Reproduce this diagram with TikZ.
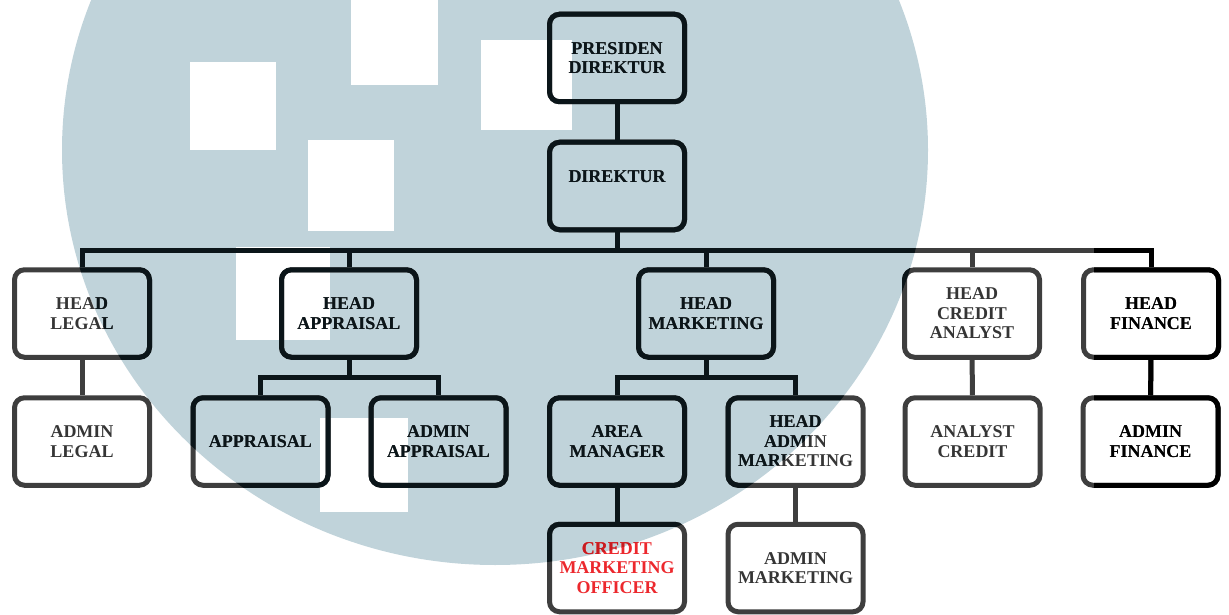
\documentclass[tikz,border=0pt]{standalone}
\usepackage{fontspec}
\setmainfont{Liberation Serif}
\usepackage{xcolor}
\definecolor{wmblue}{HTML}{C0D3DA}
\definecolor{inkgray}{HTML}{3E3E3E}
\definecolor{inkdark}{HTML}{0B1519}
\definecolor{txtgray}{HTML}{353535}
\definecolor{cmored}{HTML}{EC282D}
\definecolor{cmodark}{HTML}{C81C20}
\colorlet{ink}{inkgray}
\colorlet{txt}{txtgray}
\colorlet{cmo}{cmored}

\newcommand{\orgtree}{%
	\node[unit] (presdir) at (617,58) {PRESIDEN\\DIREKTUR};
	\node[unit] (direktur) at (617,186) {DIREKTUR\\\mbox{}};

	\node[unit] (hlegal) at (82,313.5) {HEAD\\LEGAL};
	\node[unit] (happr) at (349,313.5) {HEAD\\APPRAISAL};
	\node[unit] (hmkt) at (706,313.5) {HEAD\\MARKETING};
	\node[unit] (hcredit) at (972,313.5) {HEAD\\CREDIT\\ANALYST};
	\node[unit] (hfinance) at (1151,313.5) {HEAD\\FINANCE};

	\node[unit] (adlegal) at (82,441.5) {ADMIN\\LEGAL};
	\node[unit] (appr) at (260.5,441.5) {APPRAISAL};
	\node[unit] (adappr) at (438.5,441.5) {ADMIN\\APPRAISAL};
	\node[unit] (areamgr) at (617,441.5) {AREA\\MANAGER};
	\node[unit] (hadmkt) at (795.5,441.5) {HEAD\\ADMIN\\MARKETING};
	\node[unit] (ancredit) at (972.5,441.5) {ANALYST\\CREDIT};
	\node[unit] (adfinance) at (1150.5,441.5) {ADMIN\\FINANCE};

	\node[unit, text=cmo] (cmofficer) at (617,568) {CREDIT\\MARKETING\\OFFICER};
	\node[unit] (admkt) at (795.5,568) {ADMIN\\MARKETING};

	\coordinate (bus) at (617,250);
	\coordinate (apbus) at (349,377);
	\coordinate (mkbus) at (706,377);

	\draw[link] (presdir) -- (direktur);
	\draw[link] (direktur) -- (bus);
	\draw[link] (hlegal.north) |- (bus) -| (hfinance.north);
	\draw[link] (happr.north) -- (happr.north |- bus);
	\draw[link] (hmkt.north) -- (hmkt.north |- bus);
	\draw[link] (hcredit.north) -- (hcredit.north |- bus);

	\draw[link] (happr) -- (apbus);
	\draw[link] (appr.north) |- (apbus) -| (adappr.north);
	\draw[link] (hmkt) -- (mkbus);
	\draw[link] (areamgr.north) |- (mkbus) -| (hadmkt.north);

	\draw[link] (hlegal) -- (adlegal);
	\draw[link] (hcredit) -- (ancredit);
	\draw[link] (hfinance) -- (adfinance);
	\draw[link] (areamgr) -- (cmofficer);
	\draw[link] (hadmkt) -- (admkt);
}

\begin{document}
\begin{tikzpicture}[x=1pt, y=-1pt,
		unit/.style={draw=ink, text=txt, line width=5pt, rounded corners=10pt,
			minimum width=135pt, minimum height=87.5pt, inner sep=0pt, align=center,
			font=\fontsize{18}{19.5}\selectfont\bfseries},
		link/.style={draw=ink, line width=5pt}]
	\useasboundingbox (0,0) rectangle (1229,615);

	% watermark
	\fill[wmblue] (495,150) ellipse [x radius=433, y radius=415];
	\foreach \xa/\ya/\xb/\yb in {190/62/276/150, 351/0/438/85, 308/140/394/231,
		481/40/572/130, 236/247/330/340, 320/418/408/512} {
		\fill[white] (\xa,\ya) rectangle (\xb,\yb);
	}

	\orgtree
	\begin{scope}
		\clip (495,150) ellipse [x radius=433, y radius=415];
		\colorlet{ink}{inkdark}\colorlet{txt}{inkdark}\colorlet{cmo}{cmodark}
		\orgtree
	\end{scope}
	\begin{scope}
		\clip (1094,0) rectangle (1229,615);
		\colorlet{ink}{black}\colorlet{txt}{black}
		\orgtree
	\end{scope}
\end{tikzpicture}
\end{document}
